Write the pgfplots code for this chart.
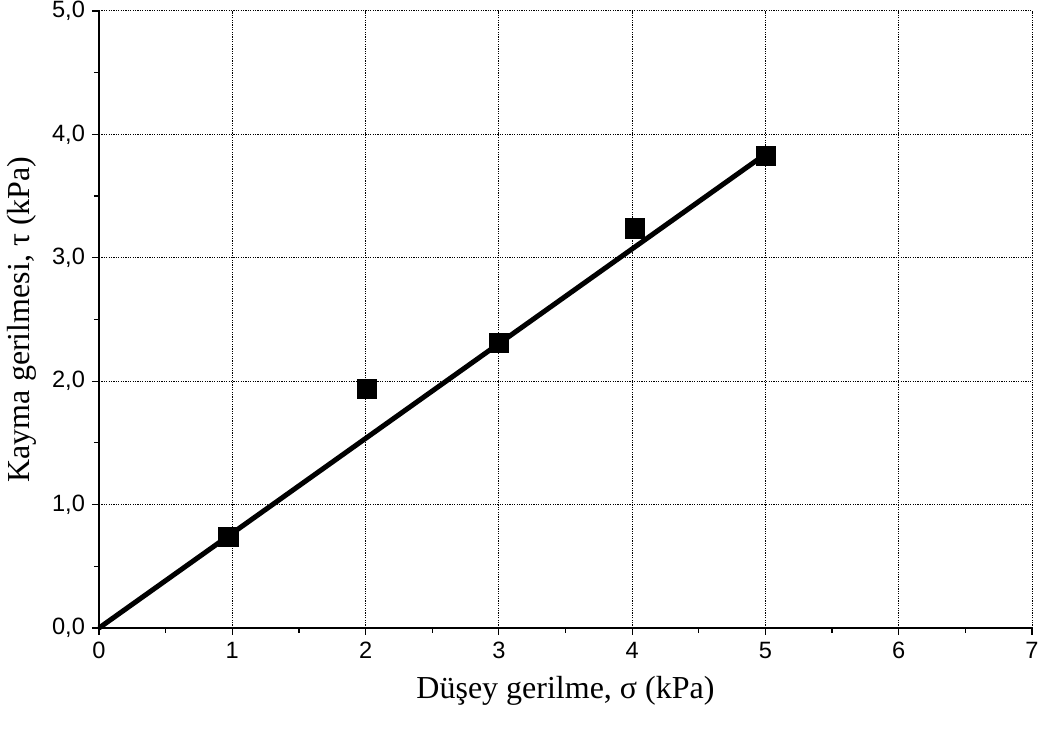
\documentclass[border=0pt]{standalone}
\usepackage{fontspec}
\setmainfont{Liberation Serif}
\newfontfamily\arial{Liberation Sans}
\usepackage{pgfplots}
\pgfplotsset{compat=1.18}
\begin{document}
\begin{tikzpicture}
\begin{axis}[
  scale only axis,
  width=466.5pt, height=308.5pt,
  xmin=0, xmax=7, ymin=0, ymax=5,
  axis x line*=bottom, axis y line*=left,
  axis line style={line width=0.8pt, -},
  xtick={0,...,7}, ytick={0,1,...,5},
  minor xtick={0.5,1.5,...,6.5}, minor ytick={0.5,1.5,...,4.5},
  tick align=outside,
  major tick length=3.5pt, minor tick length=2.5pt,
  tick style={black, line width=0.6pt},
  grid=major,
  major grid style={dash pattern=on 0.6pt off 0.6pt, black, line width=0.5pt},
  ticklabel style={font=\arial\fontsize{11.8}{13}\selectfont},
  /pgf/number format/assume math mode=true,
  yticklabel style={/pgf/number format/.cd, fixed, fixed zerofill, precision=1, use comma},
  xticklabel style={/pgf/number format/.cd, fixed, precision=0},
  xlabel={Düşey gerilme, σ (kPa)},
  ylabel={Kayma gerilmesi, τ (kPa)},
  label style={font=\fontsize{16}{18}\selectfont},
  xlabel style={at={([yshift=-31.5pt]axis description cs:0.5,0)}, anchor=center},
  ylabel style={at={([xshift=-38.5pt]axis description cs:0,0.5)}, anchor=center},
  clip=false,
]
\addplot[black, line width=2.5pt, no marks] coordinates {(0,0) (5,3.84)};
\addplot[only marks, mark=square*, mark size=4.8pt, mark options={fill=black, draw=black, line width=0.2pt}] coordinates {
(0.97,0.74) (2.01,1.94) (3.0,2.31) (4.02,3.24) (5.0,3.83)};
\end{axis}
\pgfresetboundingbox
\useasboundingbox (-49.5pt,-51.5pt) rectangle (470pt,314pt);
\end{tikzpicture}
\end{document}
